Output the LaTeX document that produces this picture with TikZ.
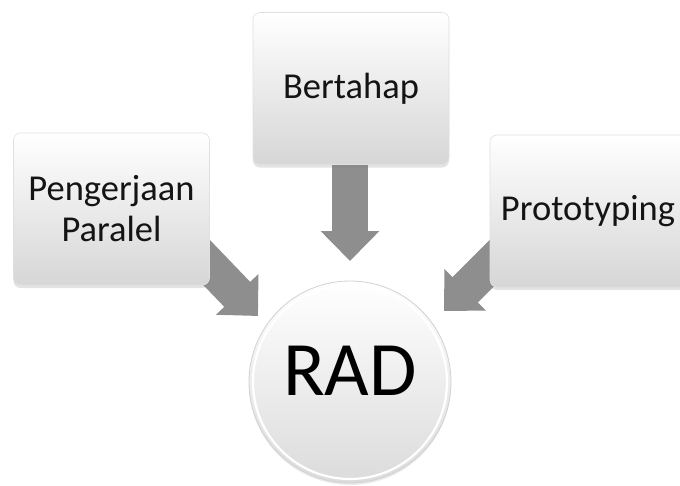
\documentclass[tikz,border=0pt]{standalone}
\usepackage{fontspec}
\setmainfont{Carlito}
\usetikzlibrary{arrows.meta,shadows,calc}
\definecolor{arrowgray}{HTML}{8E8E8E}
\definecolor{inkgray}{HTML}{141414}
\tikzset{
  panel/.style={rectangle, rounded corners=7pt, minimum width=196pt, minimum height=152pt,
    top color=white, bottom color=black!16, draw=black!12, line width=0.6pt,
    drop shadow={opacity=0.22, shadow xshift=0pt, shadow yshift=-3pt},
    font=\fontsize{36.5}{41}\selectfont, text=inkgray, align=center},
  hub/.style={circle, minimum size=202pt, inner sep=0pt,
    top color=white, bottom color=black!14, draw=black!18, line width=0.8pt,
    drop shadow={opacity=0.15, shadow xshift=0pt, shadow yshift=-2pt}},
  hublabel/.style={font=\fontsize{77}{82}\selectfont, text=black},
  flow/.style={draw=arrowgray, line width=36pt,
    -{Triangle[width=57pt,length=30pt]}, color=arrowgray}
}
\begin{document}
\begin{tikzpicture}[x=1pt,y=-1pt]
  \useasboundingbox (0,0) rectangle (680,485);
  % arrow heads point at these spots just outside the hub
  \coordinate (tipL) at (258,316);
  \coordinate (tipT) at (350,261);
  \coordinate (tipR) at (444,311);
  \coordinate (tailL) at (185,240);
  \coordinate (tailT) at (350,150);
  \coordinate (tailR) at (515,240);
  % connectors, drawn first so the panels cover their tails
  \draw[flow] (tailT) -- (tipT);
  \draw[flow] (tailL) -- (tipL);
  \draw[flow] (tailR) -- (tipR);
  % panels
  \node[panel] (par) at (111.5,209) {Pengerjaan\\Paralel};
  \node[panel] (tah) at (351,88.5) {Bertahap};
  \node[panel] (pro) at (588,211) {Prototyping};
  % hub
  \node[hub] (rad) at (350,382) {};
  \draw[white, line width=2.2pt] (rad.center) circle (97pt);
  \node[hublabel] (radtext) at (350,371) {RAD};
\end{tikzpicture}
\end{document}
